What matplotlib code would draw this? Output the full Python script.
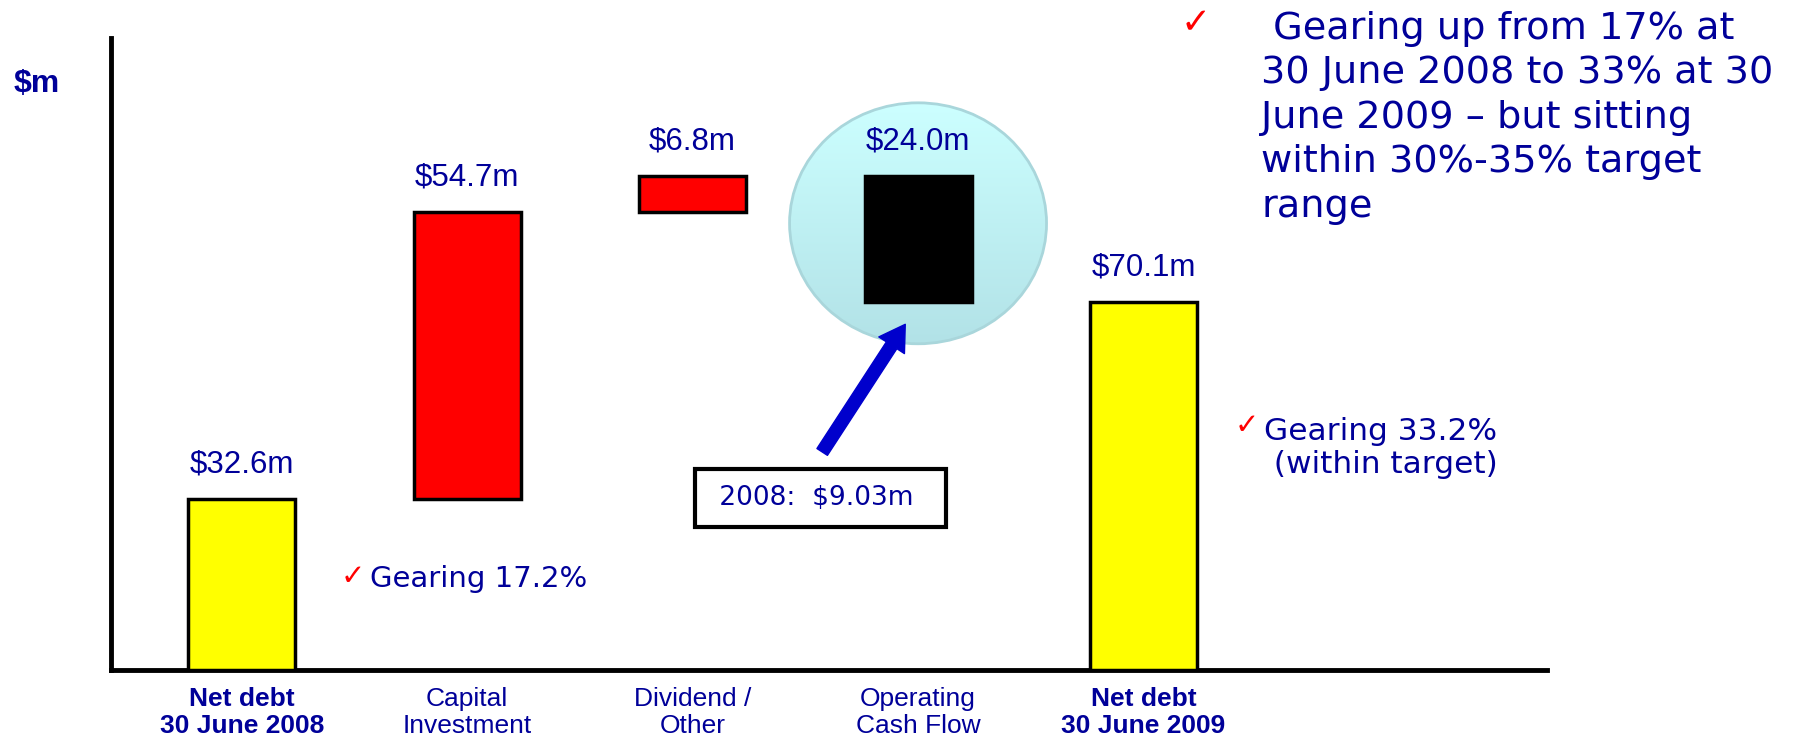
import numpy as np
import matplotlib.pyplot as plt
from matplotlib.patches import Ellipse
from matplotlib.colors import LinearSegmentedColormap

navy = '#000099'
red = '#FF0000'

# waterfall of net debt movements ($m)
steps = ['Net debt\n30 June 2008', 'Capital\nInvestment', 'Dividend /\nOther',
         'Operating\nCash Flow', 'Net debt\n30 June 2009']
amounts = [32.6, 54.7, 6.8, -24.0, 70.1]
value_labels = ['$32.6m', '$54.7m', '$6.8m', '$24.0m', '$70.1m']
is_total = [True, False, False, False, True]
bar_colors = ['#FFFF00', '#FF0000', '#FF0000', '#000000', '#FFFF00']

bottoms, heights = [], []
running = 0.0
for amt, tot in zip(amounts, is_total):
    if tot:
        bottoms.append(0.0)
        heights.append(amt)
        running = amt
    else:
        bottoms.append(running + min(amt, 0))
        heights.append(abs(amt))
        running += amt
bottoms = np.array(bottoms)
heights = np.array(heights)
tops = bottoms + heights
x = np.arange(len(steps))

fig = plt.figure(figsize=(17.94, 7.42), dpi=100)
ax = fig.add_axes([0.0619, 0.0970, 0.8004, 0.8518])
ax.set_xlim(-0.58, 5.79)
ax.set_ylim(0, 120.4)

# highlight bubble behind the operating cash flow bar
cx, cy = x[3], (bottoms[3] + tops[3]) / 2 + 3
ew, eh = 1.14, 45.9
bubble = Ellipse((cx, cy), ew, eh, facecolor='none', edgecolor='#A9D6DB', lw=2, zorder=2)
ax.add_patch(bubble)
grad = np.linspace(0, 1, 256).reshape(-1, 1)
cmap = LinearSegmentedColormap.from_list('bub', ['#CCFFFF', '#B2E2E7'])
im = ax.imshow(grad, cmap=cmap, aspect='auto', origin='upper',
               extent=[cx - ew / 2, cx + ew / 2, cy - eh / 2, cy + eh / 2], zorder=1)
im.set_clip_path(bubble)

ax.bar(x, heights, bottom=bottoms, width=0.475, color=bar_colors,
       edgecolor='black', linewidth=2.5, zorder=3)

for xi, top, lab in zip(x, tops, value_labels):
    ax.annotate(lab, (xi, top), xytext=(0, 25), textcoords='offset points',
                ha='center', va='center', fontsize=22.5, color=navy,
                family='Liberation Sans', zorder=4)

# prior-year comparison box with arrow
ax.annotate('', xy=(x[3] - 0.05, tops[4] - 3.8), xytext=(2.568, 41.1),
            arrowprops=dict(arrowstyle='simple,head_width=1.1,head_length=0.9,tail_width=0.45',
                            color='#0000CC', mutation_scale=20), zorder=5)
ax.text(2.568, 32.76, ' 2008:  $9.03m  ', ha='center', va='center', fontsize=19,
        color=navy, zorder=5,
        bbox=dict(boxstyle='square,pad=0.6', facecolor='white', edgecolor='black', lw=3))

for s in ['top', 'right']:
    ax.spines[s].set_visible(False)
for s in ['left', 'bottom']:
    ax.spines[s].set_linewidth(3.5)
    ax.spines[s].set_capstyle('projecting')
ax.set_yticks([])
ax.set_xticks(x)
ax.set_xticklabels(steps, fontsize=19, color=navy, linespacing=1.15,
                   family='Liberation Sans')
for lbl, tot in zip(ax.get_xticklabels(), is_total):
    if tot:
        lbl.set_fontweight('bold')
ax.tick_params(axis='x', length=0, pad=12)

fig.text(14 / 1794, 1 - 84 / 742, '$m', fontsize=23, fontweight='bold', color=navy,
         family='Liberation Sans', va='center')

# gearing notes
fig.text(341 / 1794, 1 - 577 / 742, '\u2713', fontsize=21, color=red, va='center')
fig.text(370 / 1794, 1 - 579 / 742, 'Gearing 17.2%', fontsize=21, color=navy, va='center')
fig.text(1235 / 1794, 1 - 426 / 742, '\u2713', fontsize=21, color=red, va='center')
fig.text(1264 / 1794, 1 - 448 / 742, 'Gearing 33.2%\n (within target)', fontsize=22.5,
         color=navy, va='center', linespacing=1.15)
fig.text(1181 / 1794, 1 - 23 / 742, '\u2713', fontsize=26, color=red, va='center')
fig.text(1261 / 1794, 1 - 11 / 742,
         ' Gearing up from 17% at\n30 June 2008 to 33% at 30\nJune 2009 \u2013 but sitting\n'
         'within 30%-35% target\nrange', fontsize=27.5, color=navy, va='top', linespacing=1.3)

fig.savefig('out.png', dpi=100)
